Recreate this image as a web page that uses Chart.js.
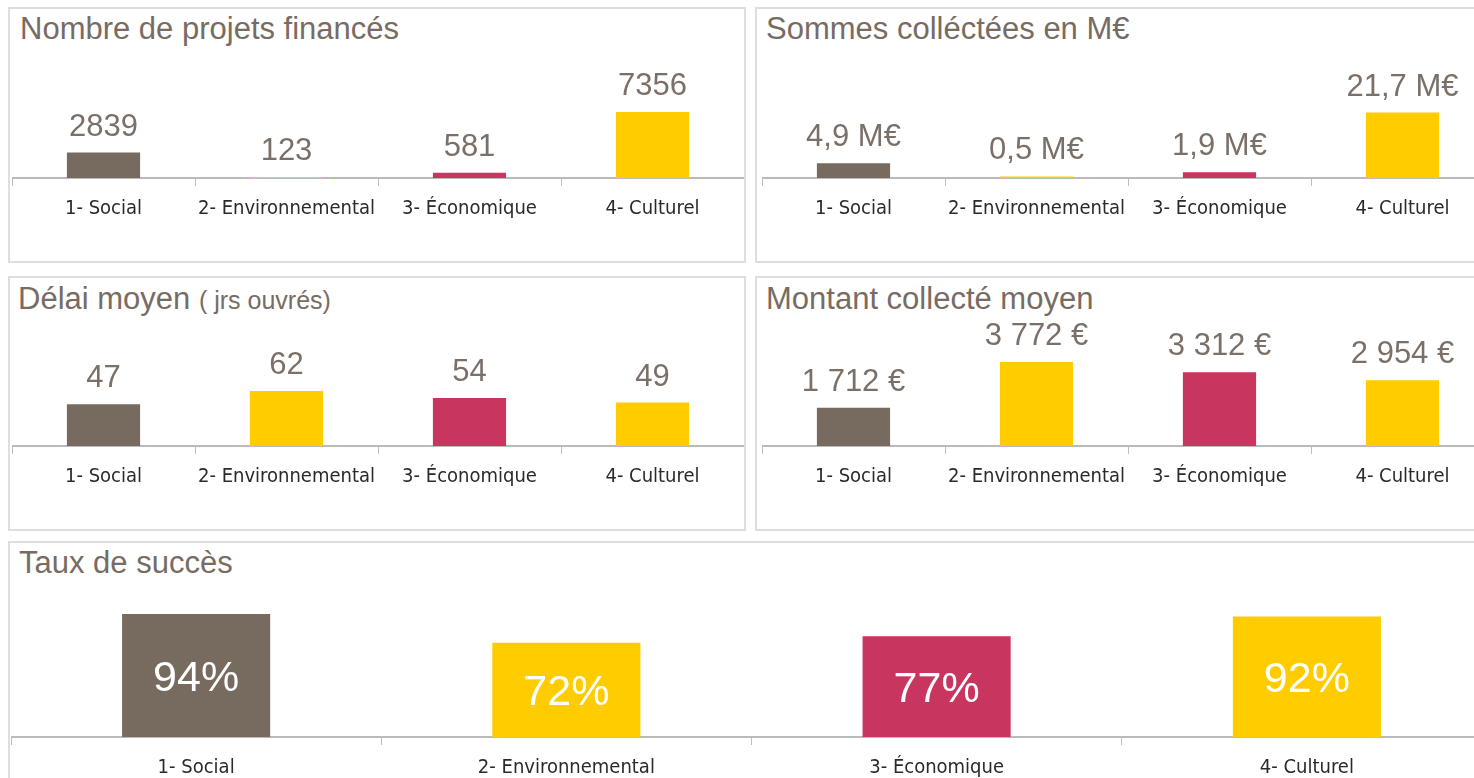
<!DOCTYPE html>
<html><head><meta charset="utf-8">
<script src="https://cdn.jsdelivr.net/npm/chart.js@4"></script>
<style>
html,body{margin:0;padding:0;background:#fff;overflow:hidden;width:1474px;height:778px;position:relative;}
.panel{position:absolute;border:2px solid #dedede;box-sizing:border-box;}
.title{position:absolute;font-family:"Liberation Sans",Arial,sans-serif;color:#776c64;font-size:31px;white-space:nowrap;line-height:1;}
.title small{font-size:25px;}
canvas{position:absolute;}
</style></head><body>
<div class="panel" style="left:8px;top:7px;width:738px;height:256px;"></div>
<div class="panel" style="left:755px;top:7px;width:740px;height:256px;"></div>
<div class="panel" style="left:8px;top:276px;width:738px;height:255px;"></div>
<div class="panel" style="left:755px;top:276px;width:740px;height:255px;"></div>
<div class="panel" style="left:8px;top:541px;width:1490px;height:260px;"></div>

<div class="title" style="left:20px;top:13px;">Nombre de projets financés</div>
<div class="title" style="left:766px;top:13px;">Sommes colléctées en M€</div>
<div class="title" style="left:18px;top:283px;">Délai moyen <small>( jrs ouvrés)</small></div>
<div class="title" style="left:766px;top:283px;">Montant collecté moyen</div>
<div class="title" style="left:19px;top:547px;">Taux de succès</div>

<canvas id="c1" width="732" height="190" style="left:12px;top:48px;width:732px;height:190px;"></canvas>
<canvas id="c2" width="732" height="190" style="left:762px;top:48px;width:732px;height:190px;"></canvas>
<canvas id="c3" width="732" height="190" style="left:12px;top:316px;width:732px;height:190px;"></canvas>
<canvas id="c4" width="732" height="190" style="left:762px;top:316px;width:732px;height:190px;"></canvas>
<canvas id="c5" width="1481" height="211" style="left:11px;top:567px;width:1481px;height:211px;"></canvas>

<script>
// ---- data ----
const categories = ['1- Social', '2- Environnemental', '3- Économique', '4- Culturel'];
const projetsFinances = [2839, 123, 581, 7356];
const sommesCollectees = [4.9, 0.5, 1.9, 21.7];
const delaiMoyen = [47, 62, 54, 49];
const montantMoyen = [1712, 3772, 3312, 2954];
const tauxSucces = [94, 72, 77, 92];

// ---- styles ----
const GRAY = '#776a5f', YELLOW = '#ffcc00', CRIMSON = '#c8365f';
const barColors = [GRAY, YELLOW, CRIMSON, YELLOW];

const fmtInt = v => String(v);
const fmtMEur = v => v.toFixed(1).replace('.', ',') + ' M€';
const fmtEur = v => String(v).replace(/\B(?=(\d{3})+(?!\d))/g, ' ') + ' €';
const fmtPct = v => v + '%';

function labelsPlugin(cfg) {
  return {
    id: 'valueLabels',
    afterDatasetsDraw(chart) {
      const ctx = chart.ctx;
      const meta = chart.getDatasetMeta(0);
      const vals = chart.data.datasets[0].data;
      ctx.save();
      ctx.font = cfg.font;
      ctx.fillStyle = cfg.color;
      ctx.textAlign = 'center';
      ctx.textBaseline = 'alphabetic';
      meta.data.forEach((bar, i) => {
        const txt = cfg.format(vals[i]);
        const y = cfg.inside ? (bar.y + bar.base) / 2 + cfg.shift : bar.y - cfg.shift;
        ctx.fillText(txt, bar.x, y);
      });
      ctx.restore();
    }
  };
}

function makeChart(id, values, yMax, axisH, labelCfg) {
  new Chart(document.getElementById(id), {
    type: 'bar',
    data: {
      labels: categories,
      datasets: [{
        data: values,
        backgroundColor: barColors,
        borderWidth: 0,
        barPercentage: 0.4,
        categoryPercentage: 1.0
      }]
    },
    options: {
      responsive: false,
      animation: false,
      devicePixelRatio: 1,
      layout: { padding: 0 },
      plugins: { legend: { display: false }, tooltip: { enabled: false }, title: { display: false } },
      scales: {
        x: {
          offset: true,
          grid: { display: true, offset: true, drawOnChartArea: false, drawTicks: true, tickLength: 8, color: '#bdbdbd', lineWidth: 1 },
          border: { display: true, color: '#bababa', width: 2 },
          ticks: { font: { family: '"DejaVu Sans Condensed", "DejaVu Sans", sans-serif', size: 20 }, color: '#2a2a2a', padding: 11, maxRotation: 0, autoSkip: false },
          afterFit(s) { s.height = axisH; }
        },
        y: { display: false, min: 0, max: yMax }
      }
    },
    plugins: [labelsPlugin(labelCfg)]
  });
}

const topLabel = fmt => ({ format: fmt, font: '31px "Liberation Sans", Arial, sans-serif', color: '#7a7068', inside: false, shift: 17 });

// plot height 130px in the four small charts, 170px in the large one
makeChart('c1', projetsFinances, Math.max(...projetsFinances) * 130 / 66, 60, topLabel(fmtInt));
makeChart('c2', sommesCollectees, Math.max(...sommesCollectees) * 130 / 65.5, 60, topLabel(fmtMEur));
makeChart('c3', delaiMoyen, Math.max(...delaiMoyen) * 130 / 55, 60, topLabel(fmtInt));
makeChart('c4', montantMoyen, Math.max(...montantMoyen) * 130 / 84, 60, topLabel(fmtEur));
makeChart('c5', tauxSucces, Math.max(...tauxSucces) * 170 / 123, 41,
  { format: fmtPct, font: '43px "Liberation Sans", Arial, sans-serif', color: '#ffffff', inside: true, shift: 15 });
</script>
</body></html>
